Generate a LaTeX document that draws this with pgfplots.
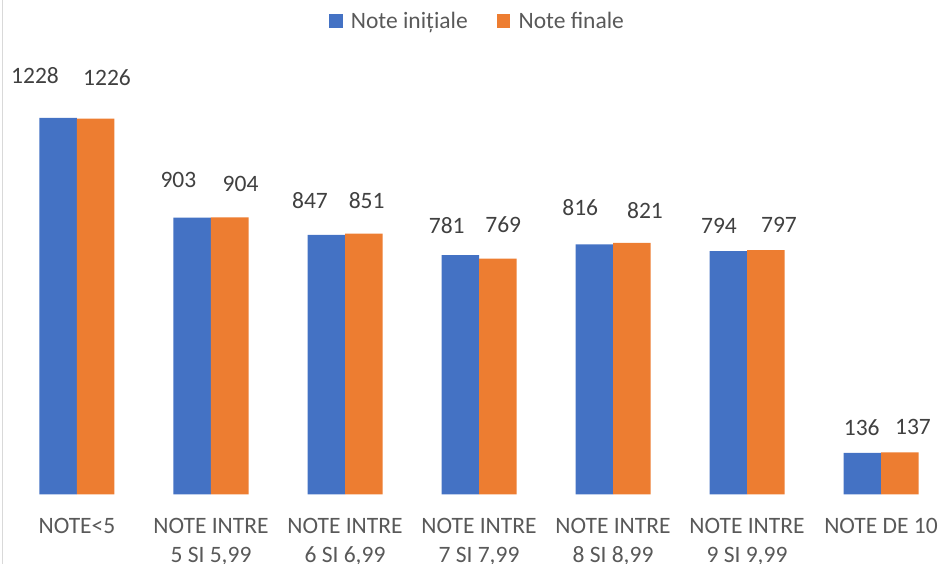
\documentclass[border=0pt]{standalone}
\usepackage{fontspec}
\setmainfont{Carlito}
\usepackage{pgfplots}
\usepackage{pgfplotstable}
\pgfplotsset{compat=1.18}
\definecolor{cblue}{HTML}{4472C4}
\definecolor{corange}{HTML}{ED7D31}
\definecolor{lbl}{HTML}{404040}
\definecolor{tck}{HTML}{595959}
\definecolor{frm}{HTML}{D9D9D9}
\newcommand{\fsz}{\fontsize{23.5}{29}\selectfont}

% x = category, y = value, lx/ly = label offset from bar top
\pgfplotstableread{
x y lx ly
0 1228 -23.25 42.5
1 903 -13.8 37.3
2 847 -16.25 34.5
3 781 -13.5 29
4 816 -14 36.3
5 794 -9.25 25
6 136 -0.5 25.2
}\initiale
\pgfplotstableread{
x y lx ly
0 1226 11.25 40.5
1 904 10.8 33
2 851 2.9 33
3 769 5.5 34.5
4 821 13.25 32.3
5 797 13.25 25
6 137 13.25 25.2
}\finale

\pgfplotsset{sqleg/.style={legend image code/.code={\fill[##1] (0pt,-6.75pt) rectangle (13.5pt,6.75pt);}}}

\begin{document}
\begin{tikzpicture}
\path[use as bounding box, clip] (0,0) rectangle (941pt,564pt);
\draw[frm, line width=1.3pt] (2.7pt,0) -- (2.7pt,564pt);
\begin{axis}[
  at={(0pt,69.5pt)}, anchor=south west,
  scale only axis, width=941pt, height=494.5pt,
  xmin=-0.5746, xmax=6.4478, ymin=0, ymax=1612.8,
  ybar=0pt, bar width=37.5pt,
  axis line style={draw=none}, major tick length=0pt,
  ytick=\empty, xtick={0,...,6},
  xticklabels={NOTE<5, {NOTE INTRE\\5 SI 5,99}, {NOTE INTRE\\6 SI 6,99},
    {NOTE INTRE\\7 SI 7,99}, {NOTE INTRE\\8 SI 8,99}, {NOTE INTRE\\9 SI 9,99}, NOTE DE 10},
  xticklabel style={align=center, font=\fsz, text=tck, inner sep=0pt, anchor=north, yshift=-23.5pt},
  nodes near coords,
  nodes near coords style={font=\fsz, text=lbl, anchor=center, inner sep=0pt, xshift=\lx pt, yshift=\ly pt},
  /pgf/number format/assume math mode=true, /pgf/number format/1000 sep={},
  clip=false,
  legend columns=2,
  legend style={at={(0.5074,1)}, anchor=north, yshift=-10pt, draw=none, fill=none, inner sep=0pt,
    font=\fsz, text=tck,
    /tikz/every odd column/.style={column sep=6.3pt},
    /tikz/every even column/.style={column sep=27pt}},
]
\addplot[fill=cblue, draw=none, sqleg,
  visualization depends on={\thisrow{lx}\as\lx},
  visualization depends on={\thisrow{ly}\as\ly}] table[x=x, y=y] {\initiale};
\addplot[fill=corange, draw=none, sqleg,
  visualization depends on={\thisrow{lx}\as\lx},
  visualization depends on={\thisrow{ly}\as\ly}] table[x=x, y=y] {\finale};
\legend{Note inițiale, Note finale}
\end{axis}
\end{tikzpicture}
\end{document}
